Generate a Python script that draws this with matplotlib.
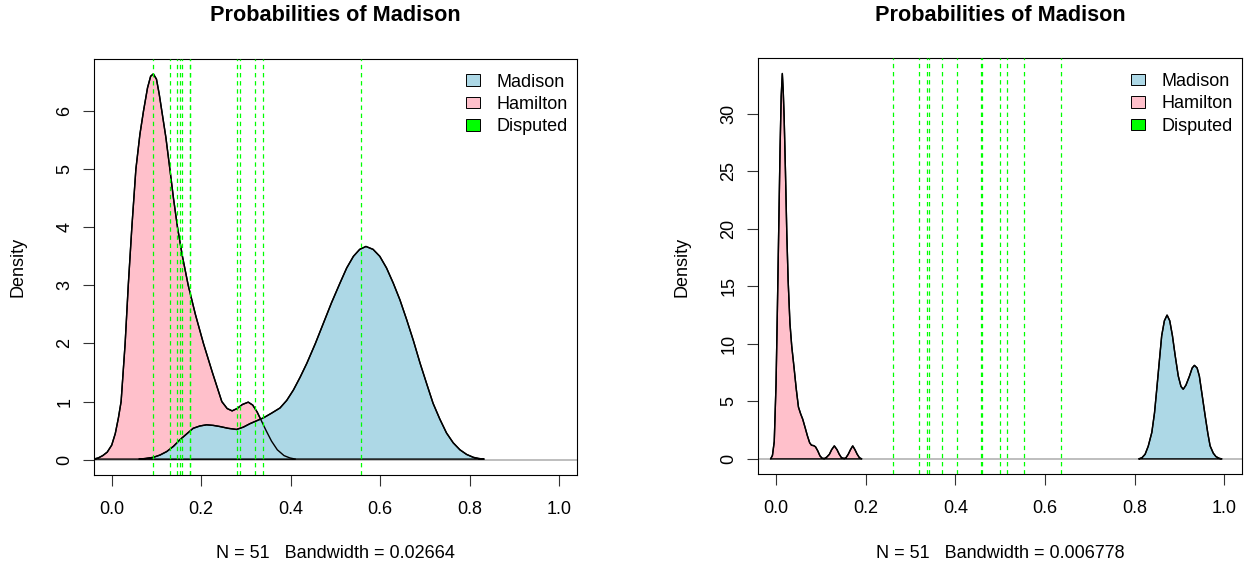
import numpy as np
import matplotlib
matplotlib.use("Agg")
import matplotlib.pyplot as plt
from matplotlib.patches import Patch

plt.rcParams['font.family'] = ['Liberation Sans', 'DejaVu Sans']

# --- datos (panel izquierdo, bw = 0.02664) ---
ham1_x = [-0.040, -0.030, -0.020, -0.010, 0.000, 0.008, 0.015, 0.021, 0.030, 0.037,
          0.045, 0.054, 0.063, 0.071, 0.080, 0.087, 0.093, 0.100, 0.106, 0.112,
          0.121, 0.130, 0.138, 0.147, 0.158, 0.171, 0.187, 0.205, 0.225, 0.246,
          0.258, 0.269, 0.280, 0.292, 0.305, 0.315, 0.325, 0.335, 0.345, 0.357,
          0.370, 0.385, 0.398, 0.410]
ham1_y = [0.01, 0.03, 0.07, 0.13, 0.25, 0.45, 0.72, 1.00, 2.00, 3.00,
          4.00, 5.00, 5.60, 6.00, 6.40, 6.60, 6.64, 6.55, 6.30, 6.00,
          5.55, 5.00, 4.50, 4.00, 3.50, 3.00, 2.50, 2.00, 1.50, 1.00,
          0.88, 0.84, 0.88, 0.95, 0.99, 0.94, 0.82, 0.66, 0.50, 0.32,
          0.17, 0.07, 0.03, 0.01]
mad1_x = [0.061, 0.075, 0.093, 0.108, 0.123, 0.138, 0.152, 0.167, 0.182, 0.197,
          0.212, 0.227, 0.242, 0.260, 0.279, 0.294, 0.309, 0.324, 0.339, 0.357,
          0.376, 0.391, 0.406, 0.421, 0.436, 0.455, 0.473, 0.491, 0.510, 0.525,
          0.540, 0.554, 0.568, 0.584, 0.599, 0.614, 0.629, 0.644, 0.659, 0.674,
          0.689, 0.704, 0.718, 0.733, 0.748, 0.763, 0.778, 0.793, 0.808, 0.820,
          0.832]
mad1_y = [0.01, 0.02, 0.04, 0.08, 0.14, 0.23, 0.34, 0.44, 0.54, 0.58,
          0.60, 0.59, 0.57, 0.54, 0.52, 0.56, 0.62, 0.67, 0.72, 0.80,
          0.89, 1.02, 1.20, 1.42, 1.66, 2.00, 2.35, 2.70, 3.04, 3.30,
          3.50, 3.62, 3.67, 3.62, 3.50, 3.30, 3.04, 2.75, 2.41, 2.05,
          1.66, 1.30, 0.97, 0.70, 0.46, 0.29, 0.17, 0.09, 0.04, 0.02,
          0.01]
disp1 = [0.092, 0.130, 0.146, 0.152, 0.158, 0.174, 0.175, 0.279, 0.286, 0.320,
         0.337, 0.558]
ymax1 = 6.64

# --- panel derecho (bw = 0.006778) ---
ham2_x = [-0.012, -0.008, -0.004, 0.000, 0.003, 0.006, 0.009, 0.0115, 0.014, 0.016,
          0.018, 0.021, 0.024, 0.027, 0.031, 0.035, 0.040, 0.045, 0.050, 0.055,
          0.0595, 0.065, 0.070, 0.075, 0.079, 0.084, 0.088, 0.093, 0.098, 0.103,
          0.108, 0.113, 0.119, 0.124, 0.130, 0.136, 0.141, 0.146, 0.152, 0.156,
          0.161, 0.166, 0.171, 0.176, 0.181, 0.186, 0.191]
ham2_y = [0.0, 0.3, 1.5, 6.5, 13.0, 20.0, 27.0, 31.5, 33.5, 32.0,
          29.8, 25.0, 19.6, 15.5, 11.8, 9.8, 8.0, 6.1, 4.5, 3.9,
          3.45, 2.7, 2.0, 1.4, 1.19, 1.15, 1.05, 0.7, 0.26, 0.05,
          0.03, 0.15, 0.4, 0.8, 1.13, 0.8, 0.4, 0.1, 0.03, 0.1,
          0.4, 0.8, 1.13, 0.8, 0.4, 0.1, 0.0]
mad2_x = [0.809, 0.816, 0.823, 0.830, 0.838, 0.844, 0.849, 0.855, 0.860, 0.866,
          0.872, 0.878, 0.884, 0.890, 0.897, 0.903, 0.908, 0.914, 0.922, 0.928,
          0.933, 0.939, 0.944, 0.950, 0.957, 0.963, 0.968, 0.975, 0.981, 0.988,
          0.994]
mad2_y = [0.0, 0.1, 0.4, 1.1, 2.3, 4.0, 6.05, 8.6, 10.7, 12.0,
          12.5, 12.0, 10.7, 9.0, 7.2, 6.3, 6.05, 6.4, 7.2, 7.9,
          8.13, 7.9, 7.2, 5.6, 3.73, 2.2, 1.13, 0.5, 0.2, 0.05,
          0.0]
disp2 = [0.2615, 0.319, 0.336, 0.342, 0.371, 0.403, 0.456, 0.459, 0.499, 0.516,
         0.552, 0.635]
ymax2 = 33.5

titulo = 'Probabilities of Madison'
sub1 = 'N = 51   Bandwidth = 0.02664'
sub2 = 'N = 51   Bandwidth = 0.006778'
yticks1 = [0, 1, 2, 3, 4, 5, 6]
yticks2 = [0, 5, 10, 15, 20, 25, 30]
xticks = [0.0, 0.2, 0.4, 0.6, 0.8, 1.0]

W, H = 1244, 567
fig = plt.figure(figsize=(W / 100, H / 100), dpi=100)

def panel(rect, hx, hy, mx, my, disp, ymax, yticks, sub, ylab_x):
    ax = fig.add_axes(rect)
    ax.set_xlim(-0.04, 1.04)
    ax.set_ylim(-0.04 * ymax, 1.04 * ymax)
    ax.axhline(0, color='#BEBEBE', lw=1.4, zorder=1)
    ax.fill(hx, hy, facecolor='pink', edgecolor='black', lw=1.0, zorder=2)
    ax.fill(mx, my, facecolor='lightblue', edgecolor='black', lw=1.0, zorder=3)
    # redibujamos las curvas encima
    ax.plot(hx, hy, color='black', lw=1.0, zorder=4)
    ax.plot(mx, my, color='black', lw=1.0, zorder=4)
    for d in disp:
        ax.axvline(d, color='#00FF00', lw=0.9, dashes=(3.5, 3), zorder=5)
    ax.set_xticks(xticks)
    ax.set_xticklabels([f'{t:.1f}' for t in xticks])
    ax.set_yticks(yticks)
    ax.tick_params(axis='both', direction='out', length=7.8, width=0.8,
                   labelsize=12.96, color='#333333')
    ax.tick_params(axis='x', pad=11)
    ax.tick_params(axis='y', pad=7, labelrotation=90)
    for lab in ax.get_yticklabels():
        lab.set_va('center')
    for s in ax.spines.values():
        s.set_linewidth(0.8)
    handles = [Patch(facecolor='lightblue', edgecolor='black', lw=0.7, label='Madison'),
               Patch(facecolor='pink', edgecolor='black', lw=0.7, label='Hamilton'),
               Patch(facecolor='#00FF00', edgecolor='black', lw=0.7, label='Disputed')]
    ax.legend(handles=handles, loc='upper right', frameon=False, fontsize=12.96,
              handlelength=0.78, handleheight=0.61, handletextpad=0.93,
              labelspacing=0.3, borderpad=0, borderaxespad=0,
              bbox_to_anchor=(1 - 9.2 / 483.4, 1 - 15 / 416.6))
    cx = (rect[0] + rect[2] / 2)
    fig.text(cx, 1 - 15.5 / H, titulo, ha='center', va='center',
             fontsize=15.55, fontweight='bold')
    fig.text(cx, 1 - 554 / H, sub, ha='center', va='center', fontsize=12.96)
    fig.text(ylab_x / W, 1 - 267 / H, 'Density', ha='center', va='center',
             rotation=90, fontsize=12.96)
    return ax

panel([93.8 / W, 1 - 475.1 / H, 483.4 / W, 416.6 / H],
      ham1_x, ham1_y, mad1_x, mad1_y, disp1, ymax1, yticks1, sub1, 18)
panel([758.1 / W, 1 - 474.3 / H, 484.3 / W, 416.3 / H],
      ham2_x, ham2_y, mad2_x, mad2_y, disp2, ymax2, yticks2, sub2, 682)

plt.savefig('out.png', dpi=100)
